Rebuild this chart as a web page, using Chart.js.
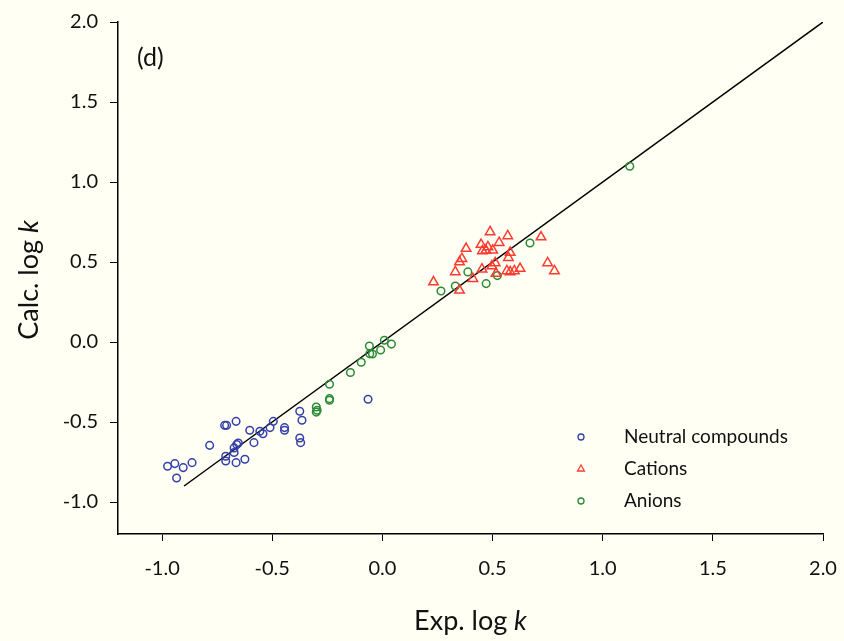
<!DOCTYPE html>
<html>
<head>
<meta charset="utf-8">
<script src="https://cdn.jsdelivr.net/npm/chart.js@4.4.0/dist/chart.umd.min.js"></script>
<style>
  html, body { margin: 0; padding: 0; background: #fffff3; }
  #wrap { width: 844px; height: 641px; }
</style>
</head>
<body>
<div id="wrap"><canvas id="myChart" width="844" height="641"></canvas></div>
<script>
// values (Exp. log k, Calc. log k)
var neutralX = [-0.975, -0.942, -0.904, -0.864, -0.934, -0.784, -0.716, -0.707, -0.664, -0.711,
                -0.711, -0.673, -0.661, -0.654, -0.673, -0.664, -0.624, -0.602, -0.583, -0.556,
                -0.542, -0.510, -0.495, -0.444, -0.444, -0.375, -0.365, -0.375, -0.371, -0.065];
var neutralY = [-0.777, -0.760, -0.785, -0.754, -0.850, -0.646, -0.521, -0.521, -0.496, -0.714,
                -0.744, -0.662, -0.641, -0.631, -0.691, -0.754, -0.733, -0.552, -0.629, -0.558,
                -0.573, -0.535, -0.496, -0.535, -0.552, -0.433, -0.489, -0.600, -0.629, -0.358];

var cationX = [0.489, 0.569, 0.720, 0.380, 0.448, 0.479, 0.530, 0.454, 0.470, 0.501,
               0.580, 0.361, 0.350, 0.572, 0.512, 0.497, 0.750, 0.781, 0.331, 0.452,
               0.411, 0.516, 0.565, 0.580, 0.599, 0.625, 0.232, 0.350];
var cationY = [0.688, 0.663, 0.656, 0.584, 0.609, 0.594, 0.621, 0.569, 0.573, 0.573,
               0.559, 0.521, 0.500, 0.527, 0.494, 0.475, 0.494, 0.444, 0.438, 0.455,
               0.396, 0.428, 0.444, 0.438, 0.444, 0.459, 0.375, 0.323];

var anionX = [1.123, 0.670, 0.388, 0.522, 0.471, 0.331, 0.266, 0.041, 0.009, -0.008,
              -0.059, -0.057, -0.045, -0.096, -0.145, -0.240, -0.240, -0.240, -0.300, -0.296, -0.300];
var anionY = [1.098, 0.619, 0.438, 0.415, 0.365, 0.350, 0.319, -0.013, 0.011, -0.050,
              -0.025, -0.073, -0.075, -0.127, -0.191, -0.264, -0.354, -0.364, -0.406, -0.427, -0.438];

var lineX = [-0.9, 2.0];
var lineY = [-0.9, 2.0];

var xTicks = [-1.0, -0.5, 0.0, 0.5, 1.0, 1.5, 2.0];
var yTicks = [-1.0, -0.5, 0.0, 0.5, 1.0, 1.5, 2.0];

var seriesNames = ['Neutral compounds', 'Cations', 'Anions'];
var panelLabel = '(d)';

var FONT = 'Lato, "Open Sans", sans-serif';

function toPoints(xs, ys) {
    var pts = [];
    for (var i = 0; i < xs.length; i++) {
        pts.push({x: xs[i], y: ys[i]});
    }
    return pts;
}

// page background + titles + legend, drawn by hand
var extras = {
    id: 'extras',
    beforeDraw: function(chart) {
        var c = chart.ctx;
        c.save();
        c.fillStyle = '#fffff3';
        c.fillRect(0, 0, chart.width, chart.height);
        c.restore();
    },
    afterDraw: function(chart) {
        var c = chart.ctx;
        var area = chart.chartArea;
        c.save();
        c.fillStyle = '#111';
        c.textBaseline = 'middle';

        // panel label
        c.font = '25px ' + FONT;
        c.textAlign = 'left';
        c.fillText(panelLabel, 137, 58);

        // x title
        c.font = '27px ' + FONT;
        var a = 'Exp. log ';
        var wa = c.measureText(a).width;
        c.font = 'italic 27px ' + FONT;
        var wk = c.measureText('k').width;
        var sx = (area.left + area.right) / 2 - (wa + wk) / 2;
        c.font = '27px ' + FONT;
        c.fillText(a, sx, 621);
        c.font = 'italic 27px ' + FONT;
        c.fillText('k', sx + wa, 621);

        // y title
        c.translate(29, (area.top + area.bottom) / 2 + 2);
        c.rotate(-Math.PI / 2);
        c.font = '27px ' + FONT;
        var b = 'Calc. log ';
        var wb = c.measureText(b).width;
        var sy = -(wb + wk) / 2;
        c.fillText(b, sy, 0);
        c.font = 'italic 27px ' + FONT;
        c.fillText('k', sy + wb, 0);
        c.restore();

        // legend
        c.save();
        var ly = [437, 469, 501];
        for (var i = 0; i < 3; i++) {
            var ds = chart.data.datasets[i];
            c.strokeStyle = ds.borderColor;
            c.fillStyle = 'rgba(0,0,0,0)';
            c.lineWidth = 1.3;
            Chart.helpers.drawPoint(c, {pointStyle: ds.pointStyle, radius: ds.pointStyle === 'triangle' ? 4 : 3, rotation: 0, borderWidth: 1.3}, 581, ly[i]);
            c.fillStyle = '#111';
            c.font = '19px ' + FONT;
            c.textAlign = 'left';
            c.textBaseline = 'middle';
            c.fillText(ds.label, 624, ly[i]);
        }
        c.restore();
    }
};

var ctx = document.getElementById('myChart').getContext('2d');

new Chart(ctx, {
    type: 'scatter',
    data: {
        datasets: [{
            label: seriesNames[0],
            data: toPoints(neutralX, neutralY),
            pointStyle: 'circle',
            pointRadius: 3.8,
            borderColor: '#3340aa',
            backgroundColor: 'rgba(0,0,0,0)',
            borderWidth: 1.5
        }, {
            label: seriesNames[1],
            data: toPoints(cationX, cationY),
            pointStyle: 'triangle',
            pointRadius: 5.5,
            borderColor: '#ff3b30',
            backgroundColor: 'rgba(0,0,0,0)',
            borderWidth: 1.5
        }, {
            label: seriesNames[2],
            data: toPoints(anionX, anionY),
            pointStyle: 'circle',
            pointRadius: 3.8,
            borderColor: '#2a8a35',
            backgroundColor: 'rgba(0,0,0,0)',
            borderWidth: 1.5
        }, {
            type: 'line',
            label: 'fit',
            data: toPoints(lineX, lineY),
            borderColor: '#000',
            borderWidth: 1.5,
            pointRadius: 0,
            fill: false
        }]
    },
    options: {
        responsive: false,
        animation: false,
        events: [],
        layout: { padding: { top: 22, right: 21, left: 0, bottom: 0 } },
        plugins: {
            legend: { display: false },
            tooltip: { enabled: false }
        },
        scales: {
            x: {
                type: 'linear',
                min: -1.2,
                max: 2.0,
                afterFit: function(s) { s.height = 107; s.paddingRight = 0; s.paddingLeft = 0; },
                afterBuildTicks: function(s) { s.ticks = xTicks.map(function(v) { return {value: v}; }); },
                grid: { display: true, drawOnChartArea: false, drawTicks: true, tickLength: 7, color: '#000', lineWidth: 1 },
                border: { display: true, color: '#000', width: 1.5 },
                ticks: {
                    padding: 16,
                    color: '#111',
                    font: { family: FONT, size: 20 },
                    callback: function(v) { return Number(v).toFixed(1); }
                }
            },
            y: {
                type: 'linear',
                min: -1.2,
                max: 2.0,
                afterFit: function(s) { s.width = 118; s.paddingTop = 0; s.paddingBottom = 0; },
                afterBuildTicks: function(s) { s.ticks = yTicks.map(function(v) { return {value: v}; }); },
                grid: { display: true, drawOnChartArea: false, drawTicks: true, tickLength: 8, color: '#000', lineWidth: 1 },
                border: { display: true, color: '#000', width: 1.5 },
                ticks: {
                    padding: 12,
                    color: '#111',
                    font: { family: FONT, size: 20 },
                    callback: function(v) { return Number(v).toFixed(1); }
                }
            }
        }
    },
    plugins: [extras]
});
</script>
</body>
</html>
